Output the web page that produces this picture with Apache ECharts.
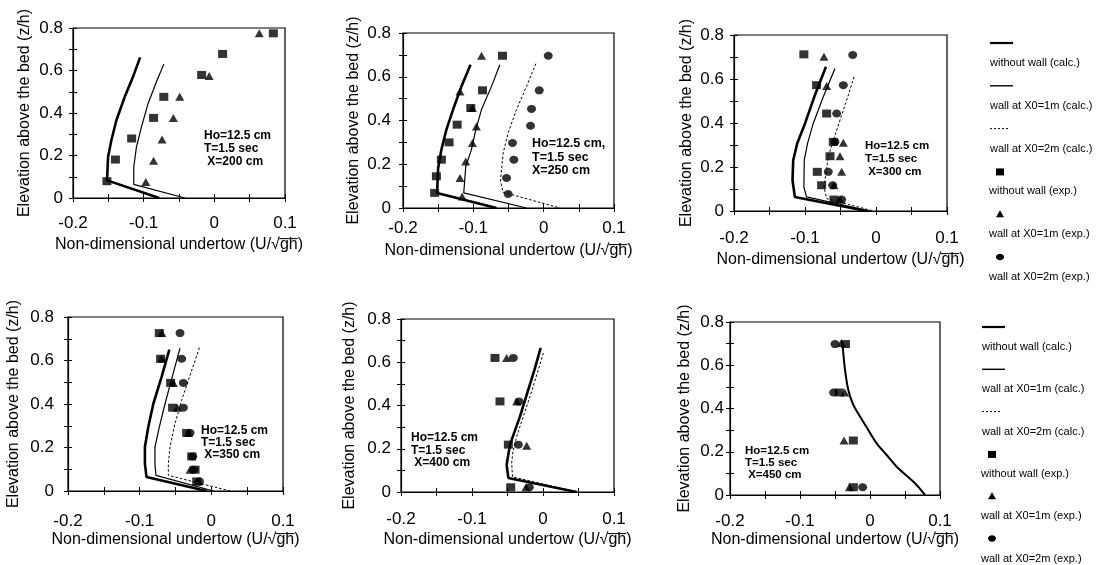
<!DOCTYPE html>
<html><head><meta charset="utf-8">
<script src="https://cdn.jsdelivr.net/npm/echarts@6/dist/echarts.min.js"></script>
<style>html,body{margin:0;padding:0;background:#fff}#c{width:1108px;height:565px}</style>
</head><body><div id="c"></div>
<script>
// ---------- tick labels / texts ----------
const xTickLabels = ['-0.2', '-0.1', '0', '0.1'];
const yTickLabels = ['0', '0.2', '0.4', '0.6', '0.8'];
const xAxisTitle = 'Non-dimensional undertow (U/\u221Ag\u0305h\u0305)';
const yAxisTitle = 'Elevation above the bed (z/h)';
const legendNames = ['without wall (calc.)', 'wall at X0=1m (calc.)', 'wall at X0=2m (calc.)',
                     'without wall (exp.)', 'wall at X0=1m (exp.)', 'wall at X0=2m (exp.)'];
const noteHo = ['Ho=12.5 cm', 'Ho=12.5 cm,', 'Ho=12.5 cm', 'Ho=12.5 cm', 'Ho=12.5 cm', 'Ho=12.5 cm'];
const noteT = 'T=1.5 sec';
const stations = [' X=200 cm', 'X=250 cm', ' X=300 cm', ' X=350 cm', ' X=400 cm', ' X=450 cm'];

// ---------- data: [undertow U/sqrt(gh), z/h] ----------
// X = 200 cm
const calcNoWall_200 = [[-0.105,0.662],[-0.115,0.571],[-0.1268,0.476],[-0.1386,0.366],[-0.1457,0.272],[-0.1504,0.193],[-0.1518,0.083],[-0.078,0.0]];
const calcWall1_200  = [[-0.0715,0.63],[-0.0819,0.547],[-0.0937,0.445],[-0.1031,0.335],[-0.1102,0.241],[-0.114,0.146],[-0.114,0.064],[-0.0417,0.0]];
const calcWall2_200  = [];
const expNoWall_200  = [[-0.152,0.079],[-0.140,0.181],[-0.117,0.28],[-0.086,0.377],[-0.0715,0.476],[-0.018,0.579],[0.0117,0.678],[0.0835,0.775]];
const expWall1_200   = [[-0.097,0.075],[-0.086,0.175],[-0.074,0.275],[-0.058,0.377],[-0.049,0.476],[-0.0073,0.574],[0.0636,0.775]];
const expWall2_200   = [];
// X = 250 cm
const calcNoWall_250 = [[-0.104,0.655],[-0.1169,0.556],[-0.1288,0.45],[-0.1383,0.358],[-0.1454,0.267],[-0.150,0.183],[-0.1516,0.069],[-0.0671,0.0]];
const calcWall1_250  = [[-0.0623,0.655],[-0.0742,0.556],[-0.0884,0.45],[-0.0965,0.358],[-0.1027,0.267],[-0.1108,0.19],[-0.1136,0.069],[-0.0244,0.0]];
const calcWall2_250  = [[-0.0111,0.66],[-0.0244,0.556],[-0.0386,0.45],[-0.0505,0.343],[-0.0576,0.251],[-0.0614,0.122],[-0.0576,0.072],[0.0231,0.0]];
const expNoWall_250  = [[-0.155,0.069],[-0.1525,0.145],[-0.1454,0.221],[-0.1345,0.30],[-0.123,0.381],[-0.1036,0.457],[-0.087,0.538],[-0.0585,0.696]];
const expWall1_250   = [[-0.116,0.053],[-0.119,0.137],[-0.1108,0.213],[-0.1013,0.297],[-0.0956,0.373],[-0.1013,0.457],[-0.119,0.533],[-0.0884,0.696]];
const expWall2_250   = [[-0.0505,0.064],[-0.0528,0.137],[-0.0424,0.221],[-0.0443,0.297],[-0.0187,0.376],[-0.0173,0.453],[-0.0063,0.538],[0.0065,0.696]];
// X = 300 cm
const calcNoWall_300 = [[-0.0705,0.656],[-0.086,0.527],[-0.1,0.398],[-0.111,0.307],[-0.1166,0.231],[-0.1176,0.14],[-0.1143,0.064],[-0.013,0.0]];
const calcWall1_300  = [[-0.0578,0.648],[-0.0742,0.519],[-0.0884,0.398],[-0.0964,0.307],[-0.101,0.231],[-0.1016,0.109],[-0.0978,0.064],[-0.0083,0.0]];
const calcWall2_300  = [[-0.0309,0.61],[-0.0412,0.504],[-0.0507,0.413],[-0.0601,0.322],[-0.0672,0.246],[-0.0733,0.109],[-0.0695,0.056],[-0.0036,0.0]];
const expNoWall_300  = [[-0.1016,0.712],[-0.0837,0.572],[-0.0695,0.443],[-0.0601,0.314],[-0.0648,0.249],[-0.0827,0.178],[-0.0766,0.117],[-0.0592,0.052]];
const expWall1_300   = [[-0.0733,0.701],[-0.0695,0.568],[-0.046,0.31],[-0.0507,0.249],[-0.0484,0.178],[-0.0592,0.117],[-0.0507,0.052]];
const expWall2_300   = [[-0.0328,0.709],[-0.046,0.572],[-0.0554,0.443],[-0.0578,0.314],[-0.0672,0.178],[-0.061,0.117],[-0.0484,0.052]];
// X = 350 cm
const calcNoWall_350 = [[-0.0586,0.65],[-0.0694,0.525],[-0.081,0.40],[-0.088,0.294],[-0.0927,0.202],[-0.0927,0.126],[-0.0904,0.064],[-0.0064,0.0]];
const calcWall1_350  = [[-0.0437,0.657],[-0.054,0.532],[-0.0647,0.40],[-0.0726,0.294],[-0.0787,0.202],[-0.0787,0.126],[-0.0773,0.072],[0.003,0.0]];
const calcWall2_350  = [[-0.0166,0.659],[-0.0297,0.532],[-0.0414,0.417],[-0.0507,0.31],[-0.0577,0.202],[-0.06,0.126],[-0.06,0.072],[0.0263,0.0]];
const expNoWall_350  = [[-0.0726,0.726],[-0.0708,0.608],[-0.0568,0.497],[-0.054,0.383],[-0.0344,0.267],[-0.0274,0.159],[-0.0227,0.098],[-0.0204,0.044]];
const expWall1_350   = [[-0.069,0.726],[-0.0694,0.608],[-0.053,0.497],[-0.0474,0.383],[-0.032,0.267],[-0.0297,0.098],[-0.018,0.044]];
const expWall2_350   = [[-0.0437,0.726],[-0.0414,0.608],[-0.039,0.497],[-0.039,0.383],[-0.0297,0.267],[-0.026,0.159],[-0.025,0.098],[-0.0166,0.044]];
// X = 400 cm
const calcNoWall_400 = [[-0.0033,0.666],[-0.0113,0.573],[-0.0207,0.473],[-0.0324,0.35],[-0.0465,0.219],[-0.0512,0.126],[-0.0488,0.065],[0.0474,0.0]];
const calcWall1_400  = [];
const calcWall2_400  = [[0.0005,0.643],[-0.008,0.55],[-0.0183,0.442],[-0.0277,0.35],[-0.037,0.257],[-0.0427,0.18],[-0.0441,0.134],[-0.043,0.07],[0.0484,0.0]];
const expNoWall_400  = [[-0.0676,0.62],[-0.0606,0.419],[-0.0488,0.219],[-0.0455,0.022]];
const expWall1_400   = [[-0.0512,0.62],[-0.037,0.419],[-0.023,0.214],[-0.024,0.022]];
const expWall2_400   = [[-0.0418,0.62],[-0.0338,0.419],[-0.0347,0.219],[-0.0192,0.022]];
// X = 450 cm
const calcNoWall_450 = [[-0.039,0.687],[-0.0357,0.579],[-0.031,0.486],[-0.0238,0.417],[-0.0143,0.363],[-0.0024,0.301],[0.0095,0.239],[0.0238,0.185],[0.0381,0.131],[0.0643,0.054],[0.0786,0.0]];
const calcWall1_450  = [];
const calcWall2_450  = [];
const expNoWall_450  = [[-0.035,0.698],[-0.044,0.474],[-0.0238,0.252],[-0.0238,0.036]];
const expWall1_450   = [[-0.041,0.703],[-0.036,0.474],[-0.0371,0.252],[-0.0295,0.036]];
const expWall2_450   = [[-0.05,0.698],[-0.052,0.474],[-0.0105,0.036]];

const panelData = [
  [calcNoWall_200, calcWall1_200, calcWall2_200, expNoWall_200, expWall1_200, expWall2_200],
  [calcNoWall_250, calcWall1_250, calcWall2_250, expNoWall_250, expWall1_250, expWall2_250],
  [calcNoWall_300, calcWall1_300, calcWall2_300, expNoWall_300, expWall1_300, expWall2_300],
  [calcNoWall_350, calcWall1_350, calcWall2_350, expNoWall_350, expWall1_350, expWall2_350],
  [calcNoWall_400, calcWall1_400, calcWall2_400, expNoWall_400, expWall1_400, expWall2_400],
  [calcNoWall_450, calcWall1_450, calcWall2_450, expNoWall_450, expWall1_450, expWall2_450]
];

// ---------- layout (pixels) ----------
const layout = [
  {l:73,  r:285, t:28,  b:198, yGap:40, xGap:39, xm:17, ym:10, nx:204, ny:137, fs:12,   lh:13},
  {l:403, r:614, t:33,  b:208, yGap:41, xGap:35, xm:12, ym:12, nx:532, ny:145, fs:12.5, lh:13.5},
  {l:734, r:947, t:35,  b:211, yGap:39, xGap:41, xm:19, ym:10, nx:865, ny:147, fs:11.5, lh:13},
  {l:68,  r:283, t:317, b:491, yGap:46, xGap:41, xm:22, ym:14, nx:201, ny:432, fs:12,   lh:12},
  {l:401, r:614, t:319, b:492, yGap:43, xGap:40, xm:19, ym:10, nx:411, ny:439, fs:12,   lh:12.5},
  {l:730, r:940, t:322, b:495, yGap:37, xGap:37, xm:18, ym:6,  nx:745, ny:452, fs:11.5, lh:12}
];

const FONT = '"Liberation Sans", Arial, sans-serif';
const grids = [], xAxes = [], yAxes = [], series = [], graphics = [];
const tickStyle = {color:'#000', width:1};

layout.forEach((p, i) => {
  grids.push({left:p.l, top:p.t, width:p.r - p.l, height:p.b - p.t, show:true,
              borderColor:'#000', borderWidth:1.2, backgroundColor:'transparent', containLabel:false});
  const xBase = {gridIndex:i, type:'value', min:-0.2, max:0.1, interval:0.1, position:'bottom',
                 splitLine:{show:false}, minorSplitLine:{show:false}};
  xAxes.push(Object.assign({}, xBase, {
    axisLine:{show:true, onZero:false, lineStyle:{color:'#000', width:1.2}},
    axisTick:{show:true, inside:false, length:4, lineStyle:tickStyle},
    minorTick:{show:true, splitNumber:2, length:4, lineStyle:tickStyle},
    axisLabel:{show:true, margin:p.xm, color:'#000', fontFamily:FONT, fontSize:17,
               formatter:(v) => xTickLabels[Math.round((v + 0.2) * 10)] ?? ''},
    name:xAxisTitle, nameLocation:'middle', nameGap:p.xGap,
    nameTextStyle:{color:'#000', fontFamily:FONT, fontSize:16}
  }));
  xAxes.push(Object.assign({}, xBase, {
    axisLine:{show:false, onZero:false}, axisLabel:{show:false},
    axisTick:{show:true, inside:true, length:4, lineStyle:tickStyle},
    minorTick:{show:true, splitNumber:2, length:4, lineStyle:tickStyle}
  }));
  const yBase = {gridIndex:i, type:'value', min:0, max:0.8, interval:0.2, position:'left',
                 splitLine:{show:false}, minorSplitLine:{show:false}};
  yAxes.push(Object.assign({}, yBase, {
    axisLine:{show:true, onZero:false, lineStyle:{color:'#000', width:1.2}},
    axisTick:{show:true, inside:false, length:4, lineStyle:tickStyle},
    minorTick:{show:true, splitNumber:2, length:4, lineStyle:tickStyle},
    axisLabel:{show:true, margin:p.ym, color:'#000', fontFamily:FONT, fontSize:17,
               formatter:(v) => yTickLabels[Math.round(v * 5)] ?? ''},
    name:yAxisTitle, nameLocation:'middle', nameGap:p.yGap, nameRotate:90,
    nameTextStyle:{color:'#000', fontFamily:FONT, fontSize:16}
  }));
  yAxes.push(Object.assign({}, yBase, {
    axisLine:{show:false, onZero:false}, axisLabel:{show:false},
    axisTick:{show:true, inside:true, length:4, lineStyle:tickStyle},
    minorTick:{show:true, splitNumber:2, length:4, lineStyle:tickStyle}
  }));

  const d = panelData[i];
  const xi = 2 * i, yi = 2 * i;
  const lineW = (i === 5) ? 2 : 2.6;
  series.push({name:legendNames[0], type:'line', xAxisIndex:xi, yAxisIndex:yi, data:d[0], showSymbol:false,
               smooth:(i === 5) ? 0.3 : false,
               lineStyle:{color:'#000', width:lineW}, z:3, silent:true});
  series.push({name:legendNames[1], type:'line', xAxisIndex:xi, yAxisIndex:yi, data:d[1], showSymbol:false,
               lineStyle:{color:'#000', width:1.2}, z:3, silent:true});
  series.push({name:legendNames[2], type:'line', xAxisIndex:xi, yAxisIndex:yi, data:d[2], showSymbol:false,
               lineStyle:{color:'#000', width:1, type:[2.5, 2]}, z:3, silent:true});
  series.push({name:legendNames[3], type:'scatter', xAxisIndex:xi, yAxisIndex:yi, data:d[3],
               symbol:'rect', symbolSize:[9, 8], itemStyle:{color:'#000'}, z:4, silent:true});
  series.push({name:legendNames[4], type:'scatter', xAxisIndex:xi, yAxisIndex:yi, data:d[4],
               symbol:'triangle', symbolSize:[9, 8], itemStyle:{color:'#000'}, z:4, silent:true});
  series.push({name:legendNames[5], type:'scatter', xAxisIndex:xi, yAxisIndex:yi, data:d[5],
               symbol:'circle', symbolSize:[9, 8], itemStyle:{color:'#000'}, z:4, silent:true});

  // annotation text
  [noteHo[i], noteT, stations[i]].forEach((txt, k) => {
    graphics.push({type:'text', left:p.nx, top:p.ny + k * p.lh - p.fs * 0.6,
      style:{text:txt, fill:'#000', font:'bold ' + p.fs + 'px ' + FONT}});
  });
});

// legends (two columns on the right)
const legendBlocks = [{x:990, y:43, step:[21.5, 21.3]}, {x:982, y:327, step:[21.5, 20.8]}];
legendBlocks.forEach((b) => {
  let y = b.y;
  legendNames.forEach((name, k) => {
    const sx = b.x, cx = b.x + 10;
    if (k === 0) graphics.push({type:'line', shape:{x1:sx, y1:y, x2:sx + 23, y2:y}, style:{stroke:'#000', lineWidth:2.2}});
    if (k === 1) graphics.push({type:'line', shape:{x1:sx, y1:y, x2:sx + 23, y2:y}, style:{stroke:'#000', lineWidth:1.4}});
    if (k === 2) graphics.push({type:'line', shape:{x1:sx, y1:y, x2:sx + 20, y2:y}, style:{stroke:'#000', lineWidth:1, lineDash:[2, 2]}});
    if (k === 3) graphics.push({type:'rect', shape:{x:cx - 4, y:y - 3, width:8, height:7}, style:{fill:'#000'}});
    if (k === 4) graphics.push({type:'polygon', shape:{points:[[cx, y - 4], [cx + 4, y + 3], [cx - 4, y + 3]]}, style:{fill:'#000'}});
    if (k === 5) graphics.push({type:'ellipse', shape:{cx:cx, cy:y, rx:4, ry:3.2}, style:{fill:'#000'}});
    graphics.push({type:'text', left:b.x - (k >= 3 ? 1 : 0), top:y + b.step[0] - 7,
      style:{text:name, fill:'#000', font:'11px ' + FONT}});
    y += b.step[0] + b.step[1];
  });
});

const chart = echarts.init(document.getElementById('c'), null, {renderer:'canvas'});
chart.setOption({
  animation:false,
  backgroundColor:'#fff',
  grid:grids, xAxis:xAxes, yAxis:yAxes, series:series, graphic:graphics
});
</script></body></html>
